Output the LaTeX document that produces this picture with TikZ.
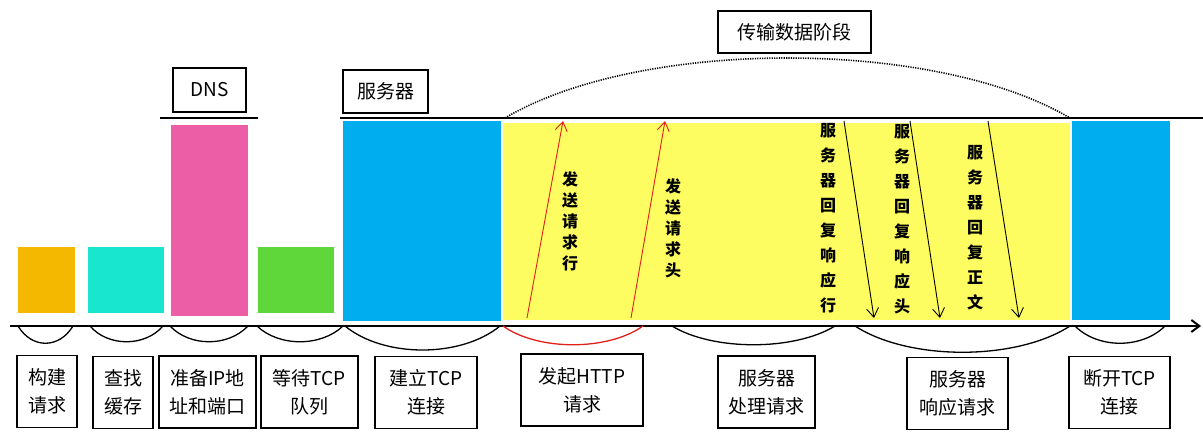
\documentclass[tikz,border=0pt]{standalone}
\usepackage{fontspec}
\usepackage{tikz}
\usetikzlibrary{arrows.meta}
\newfontfamily\cjk{Noto Sans CJK SC}
\definecolor{barorange}{HTML}{F5B800}
\definecolor{barteal}{HTML}{19E6CF}
\definecolor{barpink}{HTML}{EC5FA6}
\definecolor{bargreen}{HTML}{5FD63A}
\definecolor{barblue}{HTML}{00AEEF}
\definecolor{baryellow}{HTML}{FDFD62}
\definecolor{msgred}{HTML}{E0201A}

\begin{document}
\begin{tikzpicture}[x=1pt, y=-1pt,
	stage/.style={draw=black, line width=1.4pt, align=center, minimum height=72pt, inner sep=0pt, font=\cjk\fontsize{19}{28}\selectfont},
	tag/.style={draw=black, line width=1.4pt, inner sep=0pt, font=\cjk\fontsize{19}{22}\selectfont},
	vlabel/.style={align=center, inner sep=0pt, font=\cjk\bfseries\fontsize{16}{#1}\selectfont},
	brace/.style={line width=1.3pt},
	msg/.style={line width=0.9pt, -{Straight Barb[length=9pt,width=12pt]}}]
	
	\useasboundingbox (0,0) rectangle (1203,432);
	
	\fill[barorange] (18,247) rectangle (75,313);
	\fill[barteal] (88,247) rectangle (164,313);
	\fill[barpink] (171,125) rectangle (248,316);
	\fill[bargreen] (258,247) rectangle (334,313);
	\fill[barblue] (343,121) rectangle (501,321);
	\fill[baryellow] (503,123) rectangle (1070,320);
	\fill[barblue] (1072,121) rectangle (1170,320);
	
	\draw[line width=2pt] (160,118) -- (258,118);
	\draw[line width=2pt] (340,118) -- (1203,118);
	\draw[line width=2pt, -{Straight Barb[length=8pt,width=12pt]}] (10,326) -- (1201,326);
	\draw[line width=1.6pt, dash pattern=on 1.2pt off 1.2pt] (505,118) .. controls (640,38) and (935,38) .. (1070,118);
	
	\node[tag, minimum width=73pt, minimum height=44pt] (dns) at (209.5, 90) {DNS};
	\node[tag, minimum width=85pt, minimum height=43pt] (server) at (385.5, 91.5) {服务器};
	\node[tag, minimum width=153pt, minimum height=42pt] (transfer) at (794.5, 32) {传输数据阶段};
	
	\draw[brace] (18,326) .. controls (32,349) and (59,349) .. (73,326);
	\draw[brace] (90,326) .. controls (108,347) and (145,347) .. (163,326);
	\draw[brace] (170,326) .. controls (190,347) and (228,347) .. (248,326);
	\draw[brace] (257,326) .. controls (279,347) and (321,347) .. (343,326);
	\draw[brace] (345,326) .. controls (384,358) and (461,358) .. (500,326);
	\draw[brace, msgred] (503,326) .. controls (538,351) and (608,351) .. (643,326);
	\draw[brace] (672,326) .. controls (713,351) and (794,351) .. (835,326);
	\draw[brace] (855,326) .. controls (909,361) and (1016,361) .. (1070,326);
	\draw[brace] (1075,326) .. controls (1098,349) and (1142,349) .. (1165,326);
	
	\node[stage, minimum width=60pt] (build) at (47, 391.5) {构建\\请求};
	\node[stage, minimum width=60pt] (cache) at (123, 392.5) {查找\\缓存};
	\node[stage, minimum width=97pt] (ipport) at (207.5, 392) {准备IP地\\址和端口};
	\node[stage, minimum width=97pt] (tcpqueue) at (309.5, 392) {等待TCP\\队列};
	\node[stage, minimum width=102pt] (tcpopen) at (426, 392.5) {建立TCP\\连接};
	\node[stage, minimum width=122pt] (http) at (582, 390) {发起HTTP\\请求};
	\node[stage, minimum width=97pt] (process) at (766.5, 392) {服务器\\处理请求};
	\node[stage, minimum width=101pt] (respond) at (957.5, 393.5) {服务器\\响应请求};
	\node[stage, minimum width=101pt] (tcpclose) at (1119.5, 392.5) {断开TCP\\连接};
	
	\coordinate (line0) at (527, 318);
	\coordinate (line1) at (563, 121);
	\coordinate (head0) at (631, 318);
	\coordinate (head1) at (665, 121);
	\coordinate (rline0) at (844, 121);
	\coordinate (rline1) at (874, 318);
	\coordinate (rhead0) at (910, 121);
	\coordinate (rhead1) at (940, 318);
	\coordinate (rbody0) at (988, 121);
	\coordinate (rbody1) at (1019, 318);
	
	\draw[msg, msgred] (line0) -- (line1);
	\draw[msg, msgred] (head0) -- (head1);
	\draw[msg] (rline0) -- (rline1);
	\draw[msg] (rhead0) -- (rhead1);
	\draw[msg] (rbody0) -- (rbody1);
	
	\node[vlabel=21] (linetext) at (570, 221) {发\\送\\请\\求\\行};
	\node[vlabel=21] (headtext) at (673, 228) {发\\送\\请\\求\\头};
	\node[vlabel=25] (rlinetext) at (828, 218) {服\\务\\器\\回\\复\\响\\应\\行};
	\node[vlabel=25] (rheadtext) at (902, 219) {服\\务\\器\\回\\复\\响\\应\\头};
	\node[vlabel=25] (rbodytext) at (975, 228) {服\\务\\器\\回\\复\\正\\文};
	
	\end{tikzpicture}
\end{document}
